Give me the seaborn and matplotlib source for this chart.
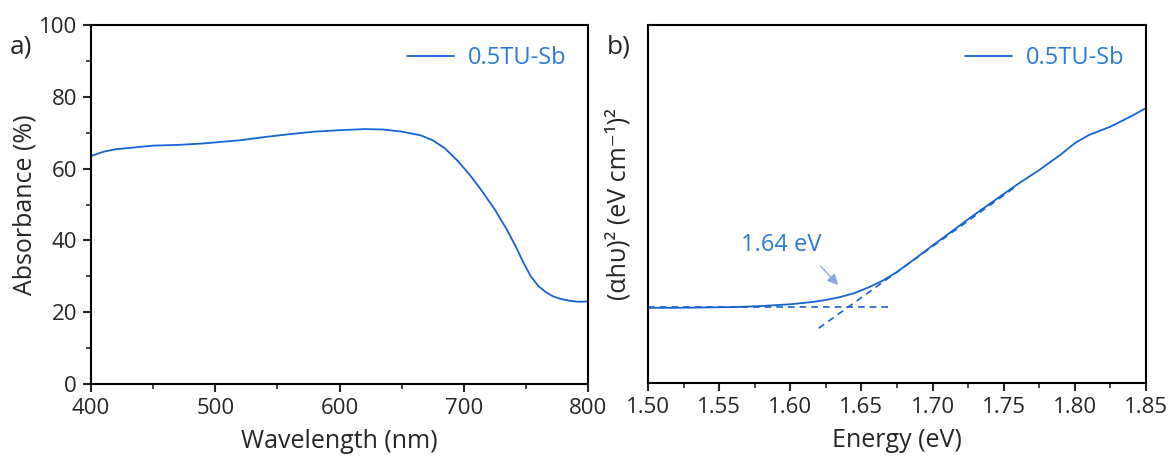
import numpy as np
import pandas as pd
import matplotlib
matplotlib.use("Agg")
import matplotlib.pyplot as plt
import seaborn as sns
from matplotlib.ticker import MultipleLocator, NullLocator

sns.set_style("ticks")
plt.rcParams['font.family'] = ['Open Sans', 'DejaVu Sans']

# Panel a: absorbance
wavelength = [400, 410, 420, 435, 450, 470, 490, 500, 520, 540, 560, 580, 600, 620, 635, 650,
              665, 675, 685, 695, 705, 715, 725, 735, 742, 748, 754, 760, 766, 772, 778, 785, 792, 800]
absorbance = [63.5, 64.7, 65.4, 65.9, 66.4, 66.6, 67.0, 67.3, 67.9, 68.8, 69.6, 70.3, 70.7, 71.0, 70.9, 70.3,
              69.3, 67.9, 65.6, 62.2, 58.2, 53.6, 48.6, 42.8, 38.2, 33.8, 30.0, 27.3, 25.6, 24.4, 23.7, 23.2, 22.9, 23.0]

# Panel b: Tauc plot (arbitrary units)
energy = [1.500, 1.520, 1.540, 1.560, 1.580, 1.600, 1.615, 1.625, 1.635, 1.645, 1.655, 1.665, 1.675,
          1.690, 1.700, 1.715, 1.730, 1.745, 1.760, 1.775, 1.790, 1.800, 1.810, 1.825, 1.840, 1.850]
tauc = [21.0, 21.0, 21.1, 21.2, 21.5, 22.0, 22.6, 23.2, 24.0, 25.1, 26.7, 28.6, 31.0,
        35.4, 38.4, 42.8, 47.2, 51.4, 55.6, 59.5, 63.8, 67.0, 69.3, 71.6, 74.6, 76.8]

baseline_x = [1.50, 1.67]
baseline_y = [21.1, 21.1]
tangent_x = [1.62, 1.76]
tangent_y = [15.3, 55.3]

bandgap_label = "1.64 eV"
series_label = "0.5TU-Sb"

LINE = "#1565d0"
TEXT_BLUE = "#2b7bd6"
FS_TICK = 16
FS_LAB = 18
FS_LEG = 17

fig = plt.figure(figsize=(11.76, 4.62), dpi=100)
ax1 = fig.add_axes([91/1176, 1-384/462, 497/1176, 359/462])
ax2 = fig.add_axes([648/1176, 1-383/462, 498/1176, 358/462])

dfa = pd.DataFrame({"wl": wavelength, "abs": absorbance})
sns.lineplot(data=dfa, x="wl", y="abs", ax=ax1, color=LINE, lw=1.3, label=series_label)
ax1.set_xlim(400, 800)
ax1.set_ylim(0, 100)
ax1.xaxis.set_major_locator(MultipleLocator(100))
ax1.xaxis.set_minor_locator(MultipleLocator(50))
ax1.yaxis.set_major_locator(MultipleLocator(20))
ax1.yaxis.set_minor_locator(MultipleLocator(10))
ax1.set_xlabel("Wavelength (nm)", fontsize=FS_LAB, labelpad=7)
ax1.set_ylabel("Absorbance (%)", fontsize=FS_LAB, labelpad=1)

dfb = pd.DataFrame({"e": energy, "t": tauc})
sns.lineplot(data=dfb, x="e", y="t", ax=ax2, color=LINE, lw=1.3, label=series_label)
sns.lineplot(x=baseline_x, y=baseline_y, ax=ax2, color=LINE, lw=1.2, linestyle=(0, (4, 3)))
sns.lineplot(x=tangent_x, y=tangent_y, ax=ax2, color=LINE, lw=1.2, linestyle=(0, (4, 3)))
ax2.set_xlim(1.50, 1.85)
ax2.set_ylim(0, 100)
ax2.xaxis.set_major_locator(MultipleLocator(0.05))
ax2.xaxis.set_minor_locator(MultipleLocator(0.025))
ax2.xaxis.set_major_formatter(matplotlib.ticker.FormatStrFormatter("%.2f"))
ax2.yaxis.set_major_locator(NullLocator())
ax2.yaxis.set_minor_locator(NullLocator())
ax2.set_xlabel("Energy (eV)", fontsize=FS_LAB, labelpad=7)
ax2.set_ylabel("(αhυ)² (eV cm⁻¹)²", fontsize=FS_LAB, labelpad=12)
ax2.annotate("", xy=(1.635, 26.8), xytext=(1.620, 33.2),
             arrowprops=dict(arrowstyle="-|>", color="#8aa6dc", lw=1.0, mutation_scale=16))
ax2.text(1.594, 38.5, bandgap_label, color=TEXT_BLUE, fontsize=FS_LEG, ha="center", va="center")

for ax in (ax1, ax2):
    for s in ax.spines.values():
        s.set_visible(True)
        s.set_linewidth(1.5)
        s.set_color("black")
    ax.tick_params(which="major", direction="out", length=6, width=1.5, labelsize=FS_TICK,
                   top=False, right=False, pad=4)
    ax.tick_params(which="minor", direction="out", length=3.5, width=1.2, top=False, right=False)
    leg = ax.legend(loc="upper right", frameon=False, fontsize=FS_LEG, handlelength=2.0,
                    borderaxespad=0.5, handletextpad=0.6)
    for t in leg.get_texts():
        t.set_color(TEXT_BLUE)

fig.text(10/1176, 1-47/462, "a)", fontsize=19, va="center", ha="left")
fig.text(607/1176, 1-47/462, "b)", fontsize=19, va="center", ha="left")

fig.savefig("out.png", dpi=100)
